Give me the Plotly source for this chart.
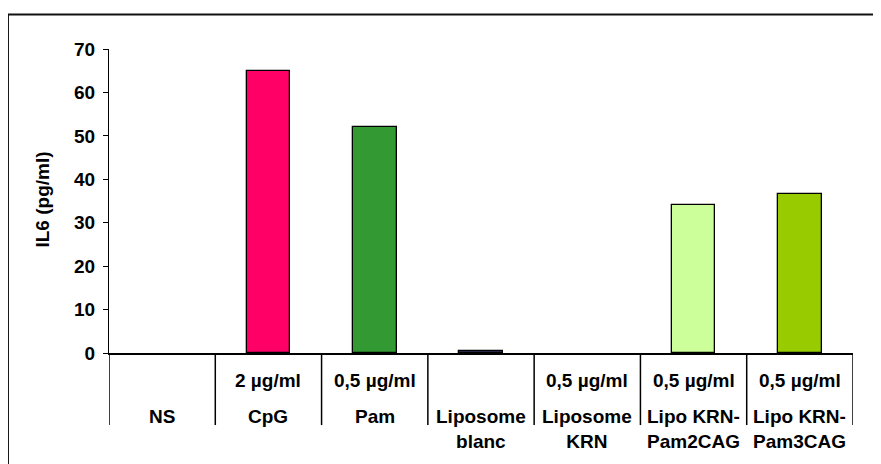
import plotly.graph_objects as go

categories = ["NS", "CpG", "Pam", "Liposome<br>blanc", "Liposome<br>KRN", "Lipo KRN-<br>Pam2CAG", "Lipo KRN-<br>Pam3CAG"]
doses = ["", "2 µg/ml", "0,5 µg/ml", "", "0,5 µg/ml", "0,5 µg/ml", "0,5 µg/ml"]
il6_values = [0, 65, 52, 0.5, 0, 34, 36.7]
bar_colors = ["#FFFFFF", "#FF0066", "#339933", "#333366", "#FFFFFF", "#CCFF99", "#99CC00"]
y_ticks = [0, 10, 20, 30, 40, 50, 60, 70]

FONT = "Liberation Sans, Arial, sans-serif"
FS = 19
idx = list(range(len(categories)))

fig = go.Figure()
fig.add_trace(go.Bar(
    x=idx, y=il6_values, width=0.41,
    marker=dict(color=bar_colors,
                line=dict(color="black", width=[1.3 if v > 0 else 0 for v in il6_values])),
    hoverinfo="skip", showlegend=False,
))

shapes = []
for b in [i - 0.5 for i in idx] + [len(idx) - 0.5]:
    shapes.append(dict(type="line", xref="x", yref="paper", x0=b, x1=b, y0=0, y1=-0.237,
                       line=dict(color="black", width=1.5)))
shapes.append(dict(type="rect", xref="paper", yref="paper", x0=-0.1358, x1=1.3, y0=-0.6, y1=1.1135,
                   line=dict(color="#111111", width=2), fillcolor="rgba(0,0,0,0)"))

annotations = []
for i, (d, c) in enumerate(zip(doses, categories)):
    if d:
        annotations.append(dict(x=i, y=-0.089, xref="x", yref="paper", text="<b>%s</b>" % d,
                                showarrow=False, xanchor="center", yanchor="middle",
                                font=dict(family=FONT, size=FS, color="black")))
    annotations.append(dict(x=i, y=-0.168, xref="x", yref="paper", text="<b>%s</b>" % c,
                            showarrow=False, xanchor="center", yanchor="top",
                            font=dict(family=FONT, size=FS, color="black")))
annotations.append(dict(x=-0.09, y=0.505, xref="paper", yref="paper", text="<b>IL6 (pg/ml)</b>",
                        textangle=-90, showarrow=False, xanchor="center", yanchor="middle",
                        font=dict(family=FONT, size=FS, color="black")))

fig.update_layout(
    width=873, height=456,
    margin=dict(l=101, r=28, t=41, b=111),
    paper_bgcolor="white", plot_bgcolor="white",
    font=dict(family=FONT, size=FS, color="black"),
    shapes=shapes, annotations=annotations,
    xaxis=dict(range=[-0.5, len(idx) - 0.5], showticklabels=False, ticks="", showgrid=False,
               zeroline=False, showline=True, linecolor="black", linewidth=1.5),
    yaxis=dict(range=[0, 70], tickvals=y_ticks, ticktext=["<b>%d</b>" % v for v in y_ticks],
               ticks="outside", ticklen=5, tickwidth=1.3, tickcolor="black",
               showline=True, linecolor="black", linewidth=1.3, showgrid=False, zeroline=False,
               ticklabelstandoff=4, tickfont=dict(family=FONT, size=FS, color="black")),
    bargap=0,
)

fig.write_html("out.html")
